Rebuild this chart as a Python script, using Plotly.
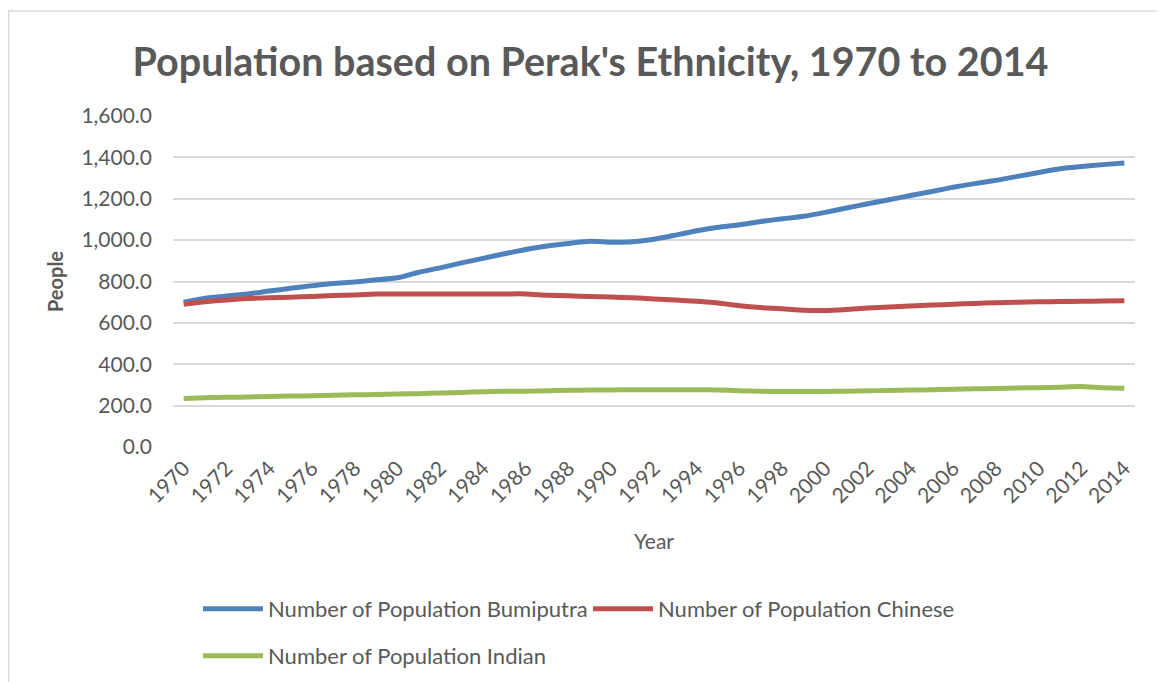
import plotly.graph_objects as go

years = list(range(1970, 2015))

bumiputra = [700, 719, 730, 740, 754, 767, 780, 790, 798, 808,
             818, 845, 866, 890, 912, 934, 955, 972, 984, 994,
             990, 992, 1004, 1024, 1045, 1062, 1074, 1090, 1103, 1115,
             1134, 1155, 1176, 1195, 1216, 1235, 1256, 1273, 1289, 1308,
             1327, 1345, 1356, 1365, 1373]

chinese = [690, 702, 711, 718, 721, 724, 728, 732, 735, 739,
           740, 740, 740, 740, 740, 740, 740, 734, 731, 727,
           725, 721, 716, 710, 704, 696, 683, 674, 668, 661,
           660, 665, 672, 677, 682, 686, 690, 694, 697, 700,
           702, 703, 704, 706, 707]

indian = [235, 238, 240, 242, 244, 246, 248, 250, 252, 254,
          256, 258, 261, 264, 267, 269, 270, 272, 274, 275,
          276, 277, 277, 277, 277, 276, 272, 269, 268, 268,
          268, 270, 272, 273, 275, 277, 279, 281, 283, 285,
          287, 289, 292, 286, 284]

series_names = ["Number of Population Bumiputra",
                "Number of Population Chinese",
                "Number of Population Indian"]
series_colors = ["#4F81BD", "#C0504D", "#9BBB59"]
series_values = [bumiputra, chinese, indian]
series_legends = ["legend", "legend", "legend2"]

y_ticks = [0, 200, 400, 600, 800, 1000, 1200, 1400, 1600]
x_ticks = list(range(1970, 2015, 2))

FONT = "Lato"
GRAY = "#595959"
TICK = 21

fig = go.Figure()
for name, color, vals, lg in zip(series_names, series_colors, series_values, series_legends):
    fig.add_trace(go.Scatter(
        x=years, y=vals, name=name, mode="lines",
        line=dict(color=color, width=5, shape="spline", smoothing=0.5),
        legend=lg,
    ))

fig.update_layout(
    width=1165, height=682,
    paper_bgcolor="white", plot_bgcolor="white",
    margin=dict(l=165, r=38, t=108, b=243, autoexpand=False),
    font=dict(family=FONT, color=GRAY, size=TICK),
    title=dict(text="<b>Population based on Perak's Ethnicity, 1970 to 2014</b>",
               x=0.5, xref="container", xanchor="center",
               y=0.921, yref="container", yanchor="middle",
               font=dict(family=FONT, size=39.5, color=GRAY)),
    legend=dict(orientation="h", x=0.026, xanchor="left", y=-0.489, yanchor="middle",
                entrywidth=315, itemwidth=60, font=dict(size=22, color=GRAY),
                bgcolor="rgba(0,0,0,0)"),
    legend2=dict(orientation="h", x=0.026, xanchor="left", y=-0.631, yanchor="middle",
                 itemwidth=60, font=dict(size=22, color=GRAY), bgcolor="rgba(0,0,0,0)"),
    showlegend=True,
)

fig.update_xaxes(
    range=[1969.5, 2014.5], automargin=False,
    tickmode="array", tickvals=x_ticks, ticktext=[str(t) for t in x_ticks],
    tickangle=-45, showgrid=False, zeroline=False, showline=False,
    ticklabelstandoff=4,
    tickfont=dict(size=TICK, color=GRAY),
    title=dict(text="Year", font=dict(size=TICK, color=GRAY), standoff=28),
)
fig.update_yaxes(
    range=[0, 1600], automargin=False,
    tickmode="array", tickvals=y_ticks,
    tickformat=",.1f",
    showgrid=True, gridcolor="#D9D9D9", gridwidth=1.5,
    zeroline=False, showline=False,
    ticklabelstandoff=20,
    tickfont=dict(size=TICK, color=GRAY),
    title=dict(text="<b>People</b>", font=dict(size=TICK - 1, color=GRAY), standoff=12),
)

fig.add_shape(type="rect", xref="paper", yref="paper",
              x0=-0.171, x1=1.026, y0=-0.76, y1=1.317,
              line=dict(color="#D9D9D9", width=1.5), fillcolor="rgba(0,0,0,0)",
              layer="below")

fig.write_html("out.html")
